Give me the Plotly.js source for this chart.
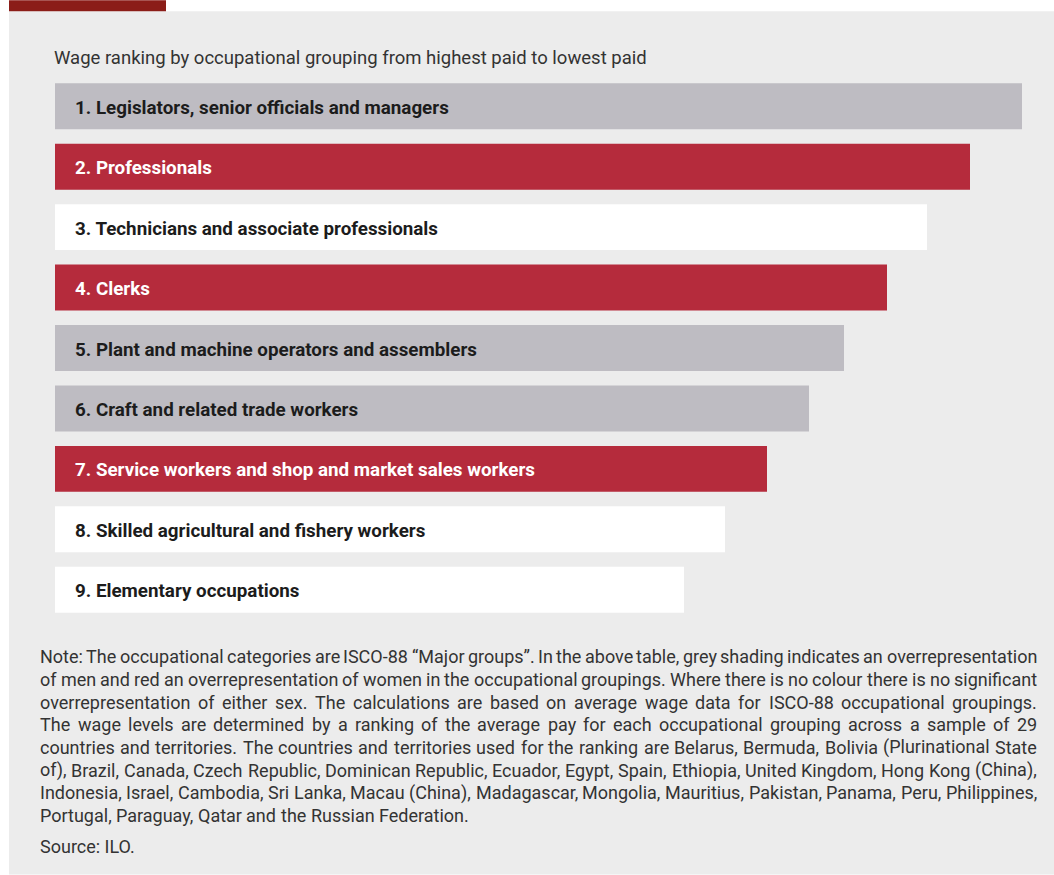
<!DOCTYPE html>
<html>
<head>
<meta charset="utf-8">
<script src="https://cdn.plot.ly/plotly-3.0.1.min.js"></script>
<style>html,body{margin:0;padding:0;background:#fff;}#chart{width:1054px;height:875px;}</style>
</head>
<body>
<div id="chart"></div>
<script>
// ---- data ----
const categories = [
  "1. Legislators, senior officials and managers",
  "2. Professionals",
  "3. Technicians and associate professionals",
  "4. Clerks",
  "5. Plant and machine operators and assemblers",
  "6. Craft and related trade workers",
  "7. Service workers and shop and market sales workers",
  "8. Skilled agricultural and fishery workers",
  "9. Elementary occupations"
];
// relative bar length (wage rank, highest to lowest)
const barLength = [967, 915, 872, 832, 789, 754, 712, 670, 629];
// overrepresentation: "men" (grey), "women" (red), "none" (no colour)
const overrep = ["men", "women", "none", "women", "men", "men", "women", "none", "none"];
const chartTitle = "Wage ranking by occupational grouping from highest paid to lowest paid";
const noteLines = [
  "Note: The occupational categories are ISCO-88 \u201cMajor groups\u201d. In the above table, grey shading indicates an overrepresentation",
  "of men and red an overrepresentation of women in the occupational groupings. Where there is no colour there is no significant",
  "overrepresentation of either sex. The calculations are based on average wage data for ISCO-88 occupational groupings.",
  "The wage levels are determined by a ranking of the average pay for each occupational grouping across a sample of 29",
  "countries and territories. The countries and territories used for the ranking are Belarus, Bermuda, Bolivia (Plurinational State",
  "of), Brazil, Canada, Czech Republic, Dominican Republic, Ecuador, Egypt, Spain, Ethiopia, United Kingdom, Hong Kong (China),",
  "Indonesia, Israel, Cambodia, Sri Lanka, Macau (China), Madagascar, Mongolia, Mauritius, Pakistan, Panama, Peru, Philippines,",
  "Portugal, Paraguay, Qatar and the Russian Federation."
];
const sourceText = "Source: ILO.";

// ---- styles ----
const fillColor = {men: "#bebcc2", women: "#b52b3c", none: "#ffffff"};
const labelColor = {men: "#1c1c1c", women: "#ffffff", none: "#1c1c1c"};
const FONT = "Roboto, sans-serif";
const textColor = "#333333";
const noteSize = 18;

const W = 1054, H = 875;
const M = {l: 55, r: 0, t: 75.75, b: 254.75};
const PW = W - M.l - M.r, PH = H - M.t - M.b;
const px = x => (x - M.l) / PW;
const py = y => 1 - (y - M.t) / PH;

const trace = {
  type: "bar",
  orientation: "h",
  y: categories,
  x: barLength,
  marker: {color: overrep.map(o => fillColor[o]), line: {width: 0}},
  hoverinfo: "y",
  showlegend: false
};

const annotations = [];
categories.forEach((c, i) => {
  annotations.push({
    x: 0, y: c, xref: "x", yref: "y",
    text: "<b>" + c + "</b>",
    showarrow: false, xanchor: "left", yanchor: "middle", xshift: 18, yshift: -1.5,
    font: {family: FONT, size: 18.8, color: labelColor[overrep[i]]}
  });
});
annotations.push({
  x: px(52), y: py(57.5), xref: "paper", yref: "paper",
  text: chartTitle, showarrow: false, xanchor: "left", yanchor: "middle",
  font: {family: FONT, size: 18.5, color: textColor}
});

// justified note: place words so each full line spans the text block
const canvas = document.createElement("canvas");
const ctx = canvas.getContext("2d");
ctx.font = noteSize + "px Roboto";
const blockLeft = 40, blockRight = 1037, lineY0 = 657, lineStep = 22.7;
noteLines.forEach((line, i) => {
  const words = line.split(" ");
  const widths = words.map(w => ctx.measureText(w).width);
  const total = widths.reduce((a, b) => a + b, 0);
  const last = i === noteLines.length - 1;
  const gap = last ? ctx.measureText(" ").width : (blockRight - blockLeft - total) / (words.length - 1);
  let cx = blockLeft;
  words.forEach((w, k) => {
    annotations.push({
      x: px(cx - 2), y: py(lineY0 + i * lineStep), xref: "paper", yref: "paper",
      text: w, showarrow: false, xanchor: "left", yanchor: "middle",
      font: {family: FONT, size: noteSize, color: textColor}
    });
    cx += widths[k] + gap;
  });
});
annotations.push({
  x: px(38), y: py(847), xref: "paper", yref: "paper",
  text: sourceText, showarrow: false, xanchor: "left", yanchor: "middle",
  font: {family: FONT, size: noteSize, color: textColor}
});

const layout = {
  width: W, height: H,
  margin: M,
  paper_bgcolor: "#ffffff",
  plot_bgcolor: "rgba(0,0,0,0)",
  bargap: 0.24,
  xaxis: {range: [0, PW], visible: false, fixedrange: true},
  yaxis: {autorange: "reversed", visible: false, fixedrange: true},
  shapes: [
    {type: "rect", xref: "paper", yref: "paper", layer: "below",
     x0: px(9), x1: px(W), y0: py(11), y1: py(H), fillcolor: "#ececec", line: {width: 0}},
    {type: "rect", xref: "paper", yref: "paper", layer: "below",
     x0: px(9), x1: px(166), y0: py(0), y1: py(11), fillcolor: "#8b1d18", line: {width: 0}}
  ],
  annotations: annotations
};

Plotly.newPlot("chart", [trace], layout, {displayModeBar: false, staticPlot: true});
</script>
</body>
</html>
